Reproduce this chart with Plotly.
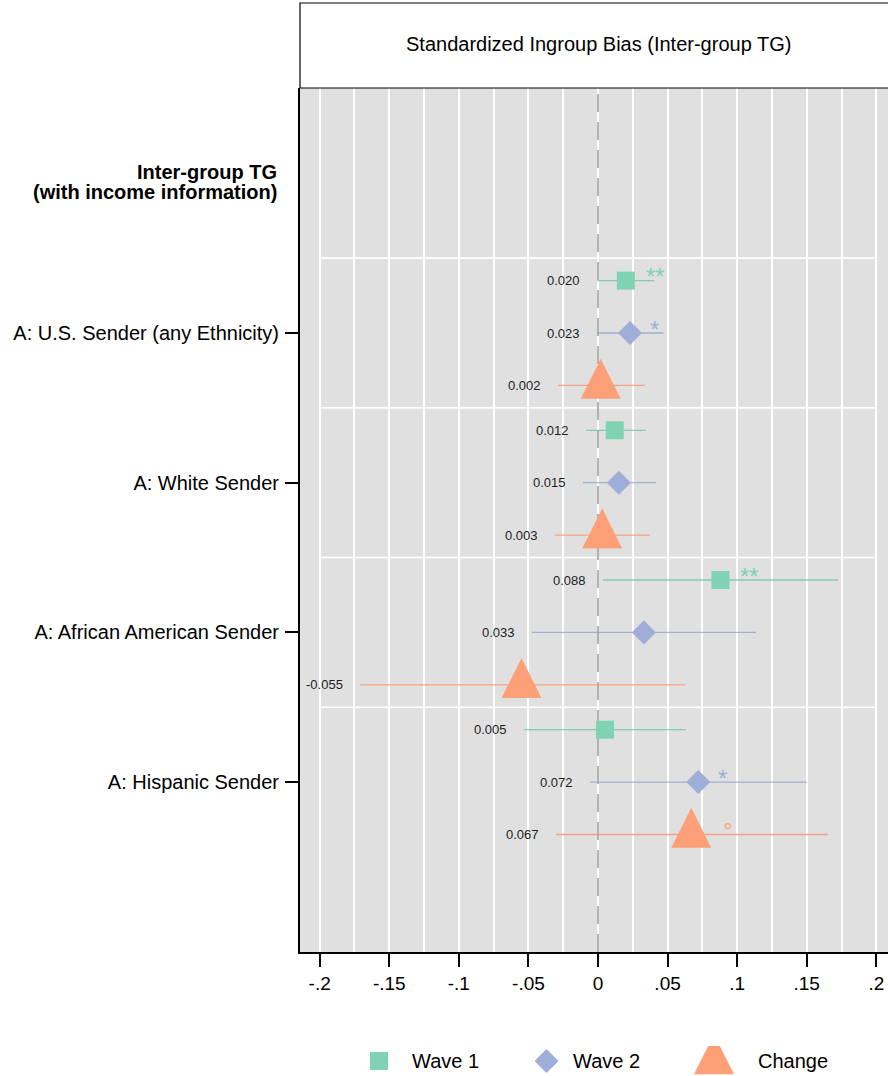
import plotly.graph_objects as go

# ---------------- data ----------------
groups = ["A: U.S. Sender (any Ethnicity)", "A: White Sender",
          "A: African American Sender", "A: Hispanic Sender"]
heading = ["Inter-group TG", "(with income information)"]
title_text = "Standardized Ingroup Bias (Inter-group TG)"
series = ["Wave 1", "Wave 2", "Change"]

wave1_est = [0.020, 0.012, 0.088, 0.005]
wave1_lo = [-0.0005, -0.0086, 0.0036, -0.0532]
wave1_hi = [0.0405, 0.0345, 0.1724, 0.0632]
wave1_sig = ["**", "", "**", ""]

wave2_est = [0.023, 0.015, 0.033, 0.072]
wave2_lo = [-0.0010, -0.0108, -0.0474, -0.0057]
wave2_hi = [0.0470, 0.0417, 0.1135, 0.1500]
wave2_sig = ["*", "", "", "*"]

change_est = [0.002, 0.003, -0.055, 0.067]
change_lo = [-0.0287, -0.0310, -0.1710, -0.0302]
change_hi = [0.0338, 0.0374, 0.0625, 0.1650]
change_sig = ["", "", "", "°"]

x_tickvals = [-0.2, -0.15, -0.1, -0.05, 0, 0.05, 0.1, 0.15, 0.2]
x_ticktext = ["-.2", "-.15", "-.1", "-.05", "0", ".05", ".1", ".15", ".2"]

# ---------------- style ----------------
W, H = 888, 1076
PL, PT, PB, HEAD_TOP = 300, 88, 952, 3
FONT = "Liberation Sans, Arial, Helvetica, sans-serif"
colors = ["#7fd2b3", "#9eaed9", "#fd9f77"]
line_colors = ["rgba(102,194,165,0.75)", "rgba(141,160,203,0.75)", "rgba(252,141,98,0.75)"]
offsets = [-0.35, 0.0, 0.35]
symbols = ["square", "diamond", "arrow-down"]
sizes = [18, 18.5, 40]
angles = [0, 0, 180]
standoffs = [0, 0, 40 * 2 / 3]
sig_shift = [18, 18, 30]
legend_text_shift = [31, 24, 42]
x_range = [-0.21416, 0.20841]
y_range = [4.135, -1.6366]

data = [
    (wave1_est, wave1_lo, wave1_hi, wave1_sig),
    (wave2_est, wave2_lo, wave2_hi, wave2_sig),
    (change_est, change_lo, change_hi, change_sig),
]

fig = go.Figure()
annotations = []
shapes = []

# group separators (white) and dashed zero reference line, drawn as traces
for i in range(len(groups)):
    fig.add_trace(go.Scatter(
        x=[x_tickvals[0], x_tickvals[-1]], y=[i - 0.5, i - 0.5], mode="lines",
        line=dict(color="white", width=1.6), showlegend=False, hoverinfo="skip"))
fig.add_trace(go.Scatter(
    x=[0, 0], y=y_range, mode="lines",
    line=dict(color="#8a8a8a", width=1.3, dash="18px,10px"),
    showlegend=False, hoverinfo="skip"))

# estimates with CIs
for s, (est, lo, hi, sig) in enumerate(data):
    ys = [i + offsets[s] for i in range(len(groups))]
    fig.add_trace(go.Scatter(
        x=est, y=ys, mode="markers", showlegend=False, hoverinfo="skip",
        marker=dict(symbol=symbols[s], size=sizes[s], color=colors[s],
                    angle=angles[s], standoff=standoffs[s], line=dict(width=0)),
        error_x=dict(type="data", symmetric=False,
                     array=[h - e for h, e in zip(hi, est)],
                     arrayminus=[e - l for e, l in zip(est, lo)],
                     color=line_colors[s], thickness=1.3, width=0),
    ))
    for i in range(len(groups)):
        annotations.append(dict(
            x=lo[i], y=ys[i], xref="x", yref="y", text=f"{est[i]:.3f}",
            showarrow=False, xanchor="right", yanchor="middle", xshift=-15,
            font=dict(family=FONT, size=13, color="#1e1e1e")))
        if sig[i]:
            annotations.append(dict(
                x=est[i], y=ys[i], xref="x", yref="y", text=sig[i],
                showarrow=False, xanchor="left", yanchor="middle",
                xshift=sig_shift[s], yshift=4,
                font=dict(family=FONT, size=24, color=colors[s])))

# legend keys (separate small axis below the plot)
for s in range(len(series)):
    fig.add_trace(go.Scatter(
        x=[s], y=[0], xaxis="x2", yaxis="y2", mode="markers",
        showlegend=False, hoverinfo="skip",
        marker=dict(symbol=symbols[s], size=sizes[s], color=colors[s],
                    angle=angles[s], standoff=standoffs[s], line=dict(width=0))))
    annotations.append(dict(
        x=s, y=0, xref="x2", yref="y2", text=series[s], showarrow=False,
        xanchor="left", yanchor="middle", xshift=legend_text_shift[s],
        font=dict(family=FONT, size=20, color="black")))

# heading lines
for k, shift in enumerate([11, -9]):
    annotations.append(dict(x=(PL - 21) / W, y=-1, xref="paper", yref="y",
                            text="<b>" + heading[k] + "</b>", showarrow=False,
                            xanchor="right", yanchor="middle", yshift=shift,
                            font=dict(family=FONT, size=20, color="black")))

# grey plot background (only the main panel)
shapes.append(dict(type="rect", xref="x domain", yref="y domain",
                   x0=0, x1=1, y0=0, y1=1, fillcolor="#e0e0e0",
                   line=dict(width=0), layer="below"))

# title box
shapes.append(dict(type="rect", xref="paper", yref="paper",
                   x0=PL / W, x1=1.02, y0=(H - PT) / H, y1=(H - HEAD_TOP) / H,
                   fillcolor="white", line=dict(color="black", width=1.2),
                   layer="above"))
annotations.append(dict(x=0, xref="x", y=(H - 44) / H, yref="paper",
                        text=title_text, showarrow=False, xanchor="center",
                        yanchor="middle",
                        font=dict(family=FONT, size=20, color="black")))

fig.update_layout(
    width=W, height=H, margin=dict(l=0, r=0, t=0, b=0),
    paper_bgcolor="white", plot_bgcolor="white",
    font=dict(family=FONT, color="black"),
    showlegend=False,
    annotations=annotations, shapes=shapes,
    xaxis=dict(domain=[PL / W, 1], range=x_range, tickmode="array",
               tickvals=x_tickvals, ticktext=x_ticktext,
               tickfont=dict(size=19, family=FONT, color="black"),
               ticks="outside", ticklen=13, tickwidth=2, tickcolor="black",
               showline=True, linecolor="black", linewidth=2,
               showgrid=True, gridcolor="white", gridwidth=1.5, zeroline=False,
               minor=dict(tickmode="linear", tick0=0, dtick=0.025, showgrid=True,
                          gridcolor="white", gridwidth=1.5, ticks=""),
               automargin=False, fixedrange=True),
    yaxis=dict(domain=[(H - PB) / H, (H - PT) / H], range=y_range,
               tickmode="array", tickvals=list(range(len(groups))), ticktext=groups,
               tickfont=dict(size=20, family=FONT, color="black"),
               ticks="outside", ticklen=13, tickwidth=1.5, tickcolor="black",
               ticklabelstandoff=2,
               showline=True, linecolor="black", linewidth=2,
               showgrid=False, zeroline=False, automargin=False, fixedrange=True),
    xaxis2=dict(domain=[0, 1], range=[-379 / 167.5, -379 / 167.5 + W / 167.5],
                visible=False, fixedrange=True, anchor="y2"),
    yaxis2=dict(domain=[0, 2 * (H - 1061) / H], range=[-1, 1], visible=False,
                fixedrange=True, anchor="x2"),
)

fig.write_html("out.html", config={"displayModeBar": False},
               post_script="document.body.style.margin='0';document.body.style.overflow='hidden';")
